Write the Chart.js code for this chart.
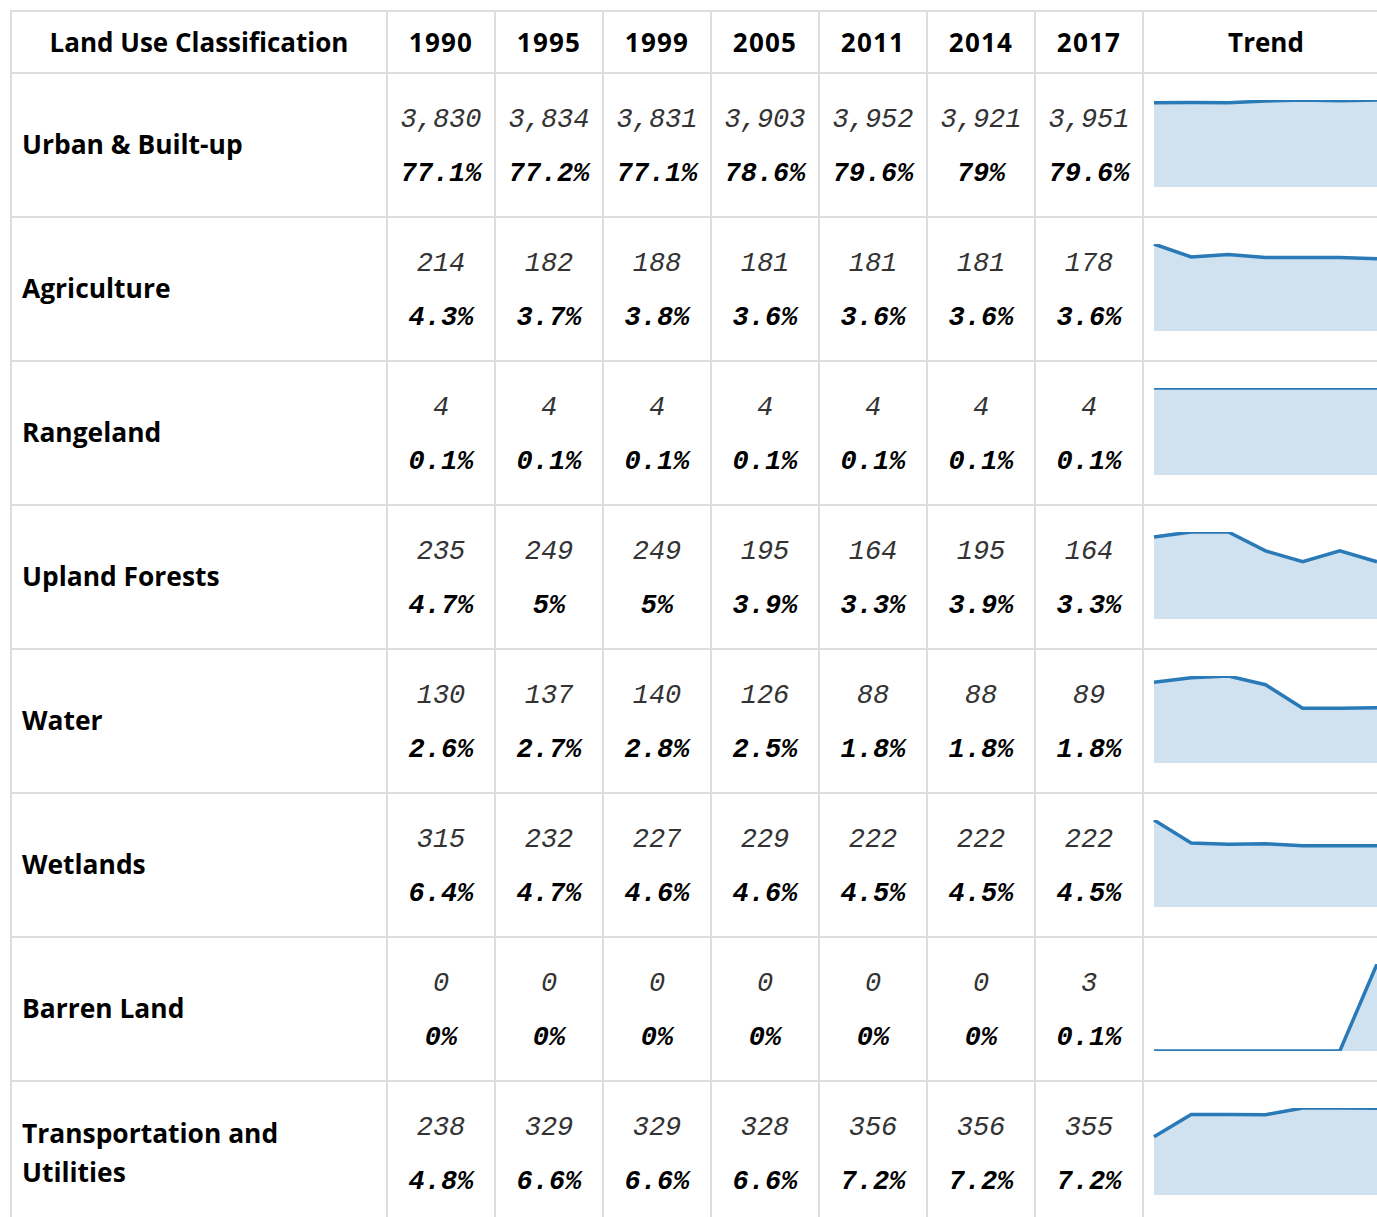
<!DOCTYPE html>
<html>
<head>
<meta charset="utf-8">
<script src="https://cdn.jsdelivr.net/npm/chart.js@4.4.0/dist/chart.umd.min.js"></script>
<style>
  html, body { margin: 0; padding: 0; background: #fff; overflow: hidden; width: 1377px; height: 1217px; }
  #grid {
    position: absolute; left: 10px; top: 10px;
    border-left: 2px solid #dddddd; border-top: 2px solid #dddddd;
    display: grid;
    grid-template-columns: 376px repeat(7, 108px) 246px;
    grid-template-rows: 62px repeat(8, 144px);
  }
  .cell {
    box-sizing: border-box;
    border-right: 2px solid #dddddd; border-bottom: 2px solid #dddddd;
    position: relative;
    display: flex; align-items: center; justify-content: center;
  }
  .hdr { font-family: "Open Sans", "Noto Sans", sans-serif; font-weight: 700; font-size: 26px; color: #000; }
  .hdr.yr { letter-spacing: 1.2px; }
  .lbl { justify-content: flex-start; padding-left: 10px; font-family: "Open Sans", "Noto Sans", sans-serif; font-weight: 700; font-size: 26.4px; color: #000; line-height: 39px; padding-top: 0; }
  .lbl span { max-width: 300px; display: block; margin-top: -1px; }
  .num { flex-direction: column; font-family: "Liberation Mono", "DejaVu Sans Mono", monospace; font-size: 27px; padding-top: 4px; }
  .num .v { font-style: italic; color: #333; height: 54px; line-height: 54px; }
  .num .p { font-style: italic; font-weight: 700; color: #000; height: 54px; line-height: 54px; }
  .trend canvas { position: absolute; left: 0; top: 0; }
</style>
</head>
<body>
<div id="grid"></div>
<script>
const years = ['1990', '1995', '1999', '2005', '2011', '2014', '2017'];
const categories = ['Urban & Built-up', 'Agriculture', 'Rangeland', 'Upland Forests', 'Water', 'Wetlands', 'Barren Land', 'Transportation and Utilities'];

const urbanAcres = [3830, 3834, 3831, 3903, 3952, 3921, 3951];
const urbanPct = [77.1, 77.2, 77.1, 78.6, 79.6, 79, 79.6];
const agricultureAcres = [214, 182, 188, 181, 181, 181, 178];
const agriculturePct = [4.3, 3.7, 3.8, 3.6, 3.6, 3.6, 3.6];
const rangelandAcres = [4, 4, 4, 4, 4, 4, 4];
const rangelandPct = [0.1, 0.1, 0.1, 0.1, 0.1, 0.1, 0.1];
const forestAcres = [235, 249, 249, 195, 164, 195, 164];
const forestPct = [4.7, 5, 5, 3.9, 3.3, 3.9, 3.3];
const waterAcres = [130, 137, 140, 126, 88, 88, 89];
const waterPct = [2.6, 2.7, 2.8, 2.5, 1.8, 1.8, 1.8];
const wetlandsAcres = [315, 232, 227, 229, 222, 222, 222];
const wetlandsPct = [6.4, 4.7, 4.6, 4.6, 4.5, 4.5, 4.5];
const barrenAcres = [0, 0, 0, 0, 0, 0, 3];
const barrenPct = [0, 0, 0, 0, 0, 0, 0.1];
const transportAcres = [238, 329, 329, 328, 356, 356, 355];
const transportPct = [4.8, 6.6, 6.6, 6.6, 7.2, 7.2, 7.2];

const acresByRow = [urbanAcres, agricultureAcres, rangelandAcres, forestAcres, waterAcres, wetlandsAcres, barrenAcres, transportAcres];
const pctByRow = [urbanPct, agriculturePct, rangelandPct, forestPct, waterPct, wetlandsPct, barrenPct, transportPct];

const grid = document.getElementById('grid');
function cell(cls, html) {
  const d = document.createElement('div');
  d.className = 'cell ' + cls;
  if (html !== undefined) d.innerHTML = html;
  grid.appendChild(d);
  return d;
}

cell('hdr', 'Land Use Classification');
years.forEach(y => cell('hdr yr', y));
cell('hdr', 'Trend');

const LINE = '#2a7ab8';
const FILL = 'rgba(42,122,184,0.22)';

categories.forEach((cat, r) => {
  cell('lbl', '<span>' + cat + '</span>');
  acresByRow[r].forEach((v, i) => {
    cell('num', '<div class="v">' + v.toLocaleString('en-US') + '</div><div class="p">' + pctByRow[r][i] + '%</div>');
  });
  const t = cell('trend');
  const cv = document.createElement('canvas');
  cv.width = 244; cv.height = 142;
  cv.style.width = '244px'; cv.style.height = '142px';
  t.appendChild(cv);
  new Chart(cv, {
    type: 'line',
    data: {
      labels: years,
      datasets: [{
        data: acresByRow[r],
        borderColor: LINE,
        backgroundColor: FILL,
        borderWidth: 3.5,
        pointRadius: 0,
        tension: 0,
        fill: 'origin'
      }]
    },
    options: {
      responsive: false,
      animation: false,
      devicePixelRatio: 1,
      layout: { padding: { left: 10, right: 11, top: 26, bottom: 29 } },
      plugins: { legend: { display: false }, tooltip: { enabled: false } },
      scales: {
        x: { display: false, offset: false },
        y: { display: false, min: 0, max: Math.max(...acresByRow[r]) }
      }
    }
  });
});
</script>
</body>
</html>
